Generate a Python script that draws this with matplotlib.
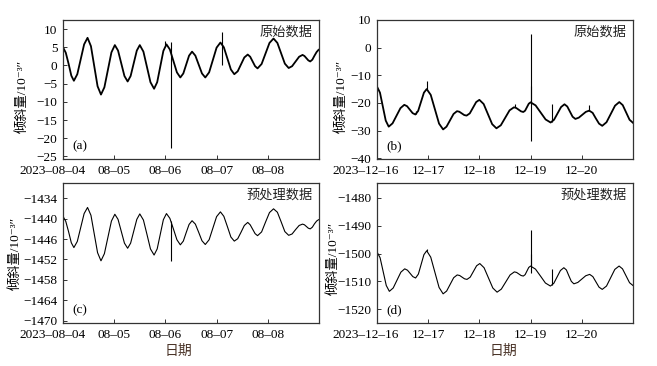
import matplotlib
matplotlib.use('Agg')
import matplotlib.pyplot as plt
import matplotlib.transforms as mtransforms

plt.rcParams['font.family'] = ['Liberation Serif', 'Noto Sans CJK SC', 'DejaVu Serif']
plt.rcParams['axes.unicode_minus'] = True

# hours since 2023-08-04 00:00 (panels a, c)
aug_hours = [0, 1.3, 2.6, 3.9, 5.1, 6.7, 8.3, 9.9, 11.5, 13.1, 14.65, 16.2, 17.8,
             19.4, 21.05, 22.7, 24.3, 25.8, 27.3, 28.8, 30.3, 31.7, 33.15, 34.6, 36.0,
             37.7, 39.35, 41.0, 42.7, 44.15, 45.6, 47.05, 48.5, 50.1, 51.75, 53.4, 55.0,
             56.4, 57.75, 59.1, 60.5, 62.05, 63.6, 65.15, 66.7, 68.5, 70.25, 72.0, 73.8,
             75.4, 77.05, 78.7, 80.3, 81.9, 83.45, 85.0, 86.6, 87.75, 88.9, 90.05, 91.2,
             93.1, 94.95, 96.8, 98.7, 100.5, 102.25, 104.0, 105.8, 107.4, 109.05, 110.7, 112.3,
             113.2, 114.1, 115.0, 115.9, 116.9, 117.9, 118.9, 119.8]
aug_raw = [5.0, 3.5, 0.5, -2.8, -4.2, -2.4, 1.7, 5.8, 7.6, 5.3, -0.2, -5.7, -8.0,
           -6.0, -1.2, 3.6, 5.6, 4.1, 0.6, -2.9, -4.4, -2.9, 0.6, 4.1, 5.6,
           3.8, -0.4, -4.6, -6.4, -4.6, -0.3, 4.0, 5.8, 4.4, 1.25, -1.9, -3.3,
           -2.2, 0.25, 2.7, 3.8, 2.7, 0.25, -2.2, -3.3, -1.9, 1.5, 4.9, 6.3,
           5.0, 1.95, -1.1, -2.4, -1.6, 0.3, 2.2, 3.0, 2.4, 1.1, -0.2, -0.8,
           0.4, 3.3, 6.2, 7.4, 6.2, 3.35, 0.5, -0.7, -0.2, 1.1, 2.4, 2.9,
           2.6, 2.0, 1.4, 1.1, 1.6, 2.7, 3.7, 4.3]
aug_pre = [-1439.3, -1440.8, -1443.8, -1447.1, -1448.5, -1446.7, -1442.6, -1438.5, -1436.7,
           -1439.0, -1444.5, -1450.0, -1452.4, -1450.3, -1445.5, -1440.7, -1438.7,
           -1440.2, -1443.7, -1447.2, -1448.7, -1447.2, -1443.7, -1440.2, -1438.6,
           -1440.4, -1444.6, -1448.9, -1450.7, -1448.9, -1444.6, -1440.3, -1438.5,
           -1439.9, -1443.0, -1446.2, -1447.7, -1446.6, -1444.1, -1441.7, -1440.6,
           -1441.6, -1444.0, -1446.5, -1447.6, -1446.2, -1442.8, -1439.4, -1438.0,
           -1439.3, -1442.3, -1445.4, -1446.6, -1445.9, -1444.0, -1442.0, -1441.1,
           -1441.8, -1443.1, -1444.4, -1445.0, -1443.9, -1441.0, -1438.2, -1437.1,
           -1438.1, -1440.9, -1443.8, -1444.9, -1444.5, -1443.2, -1442.0, -1441.6,
           -1441.8, -1442.3, -1442.8, -1443.0, -1442.5, -1441.5, -1440.7, -1440.3]
aug_raw_spike_hours = [48.0, 50.5, 74.4]
aug_raw_spike_lo = [5.6, -22.8, 0.0]
aug_raw_spike_hi = [6.8, 6.5, 9.1]
aug_pre_spike_hours = [50.5]
aug_pre_spike_lo = [-1452.4]
aug_pre_spike_hi = [-1440.8]

# hours since 2023-12-16 00:00 (panels b, d)
dec_raw_hours = [0, 1.4, 2.75, 4.1, 5.5, 7.3, 9.15, 11.0, 12.8, 14.1, 15.4, 16.7, 18.0,
                 19.3, 20.65, 22.0, 23.3, 25.2, 27.15, 29.1, 31.0, 32.6, 34.25, 35.9, 37.5,
                 38.6, 39.75, 40.9, 42.0, 43.5, 45.0, 46.5, 48.0, 50.0, 52.0, 54.0, 56.0,
                 58.05, 60.1, 62.15, 64.2, 65.3, 66.4, 67.5, 68.6, 69.45, 70.3, 71.15, 72.0,
                 74.35, 76.7, 79.05, 81.4, 83.0, 84.65, 86.3, 87.9, 89.2, 90.45, 91.7, 93.0,
                 94.6, 96.25, 97.9, 99.5, 101.1, 102.55, 104.1, 105.6, 107.6, 109.6, 111.6, 113.6,
                 115.2, 116.8, 118.4, 120.0]
dec_raw = [-14.1, -16.3, -21.35, -26.4, -28.6, -27.4, -24.65, -21.9, -20.7,
           -21.2, -22.45, -23.7, -24.2, -22.9, -19.6, -16.3, -15.0,
           -17.1, -22.3, -27.5, -29.6, -28.6, -26.3, -24.0, -23.0,
           -23.2, -23.8, -24.4, -24.6, -23.8, -21.75, -19.7, -18.9,
           -20.4, -24.05, -27.7, -29.2, -28.1, -25.4, -22.7, -21.6,
           -21.85, -22.45, -23.05, -23.3, -22.8, -21.55, -20.3, -19.8,
           -20.9, -23.45, -26.0, -27.1, -26.1, -23.8, -21.5, -20.5,
           -21.3, -23.15, -25.0, -25.8, -25.35, -24.3, -23.25, -22.8,
           -23.6, -25.55, -27.5, -28.3, -27.0, -24.0, -21.0, -19.7,
           -20.8, -23.45, -26.1, -27.2]
dec_raw_spike_hours = [18.2, 23.3, 64.6, 72.0, 72.25, 82.0, 99.6]
dec_raw_spike_lo = [-24.2, -15.0, -21.6, -33.9, -20.0, -27.0, -22.8]
dec_raw_spike_hi = [-22.8, -12.0, -20.5, 5.1, -13.8, -20.3, -20.6]

dec_pre_hours = [0, 1.45, 2.9, 4.35, 5.8, 7.6, 9.4, 11.2, 13.0, 14.3, 15.55, 16.8, 18.1,
                 19.4, 20.7, 22.0, 23.3, 25.2, 27.15, 29.1, 31.0, 32.65, 34.3, 35.95, 37.6,
                 38.75, 39.9, 41.05, 42.2, 43.7, 45.2, 46.7, 48.2, 50.2, 52.25, 54.3, 56.3,
                 58.3, 60.35, 62.4, 64.4, 65.45, 66.5, 67.55, 68.6, 69.45, 70.3, 71.15, 72.0,
                 74.3, 76.65, 78.95, 81.3, 82.9, 84.45, 86.0, 87.6, 88.8, 89.95, 91.1, 92.3,
                 94.15, 96.0, 97.85, 99.7, 101.2, 102.65, 104.1, 105.6, 107.6, 109.55, 111.5, 113.5,
                 115.1, 116.75, 118.4, 120.0]
dec_pre = [-1499.4, -1501.5, -1506.5, -1511.5, -1513.6, -1512.4, -1509.55, -1506.7, -1505.5,
           -1506.0, -1507.15, -1508.3, -1508.8, -1507.4, -1503.9, -1500.4, -1499.0,
           -1501.3, -1506.75, -1512.2, -1514.5, -1513.5, -1511.1, -1508.7, -1507.7,
           -1507.9, -1508.5, -1509.1, -1509.3, -1508.5, -1506.45, -1504.4, -1503.6,
           -1505.1, -1508.75, -1512.4, -1513.9, -1512.8, -1510.25, -1507.7, -1506.6,
           -1506.8, -1507.35, -1507.9, -1508.1, -1507.6, -1506.3, -1505.0, -1504.5,
           -1505.6, -1508.1, -1510.6, -1511.7, -1510.7, -1508.4, -1506.1, -1505.1,
           -1505.9, -1508.0, -1510.0, -1510.9, -1510.4, -1509.2, -1508.0, -1507.5,
           -1508.3, -1510.2, -1512.1, -1512.9, -1511.7, -1508.7, -1505.7, -1504.5,
           -1505.5, -1508.0, -1510.5, -1511.5]
dec_pre_spike_hours = [23.3, 72.0, 72.25, 81.9]
dec_pre_spike_lo = [-1499.0, -1506.9, -1504.6, -1511.4]
dec_pre_spike_hi = [-1498.3, -1491.7, -1500.0, -1505.7]

tick_hours = [0, 24, 48, 72, 96]
aug_labels = ['2023\u201308\u201304', '08\u201305', '08\u201306', '08\u201307', '08\u201308']
dec_labels = ['2023\u201312\u201316', '12\u201317', '12\u201318', '12\u201319', '12\u201320']

ylabel = '倾斜量/10⁻³″'
frame_color = '#333333'

fig = plt.figure(figsize=(6.57, 3.66), dpi=100)
ax_a = fig.add_axes([0.0959, 0.5656, 0.3896, 0.3798])
ax_b = fig.add_axes([0.5738, 0.5656, 0.3896, 0.3798])
ax_c = fig.add_axes([0.0959, 0.1175, 0.3896, 0.3825])
ax_d = fig.add_axes([0.5738, 0.1175, 0.3896, 0.3825])


def setup(ax, ylim, yticks, labels, tag, title, label_x, label_y):
    ax.set_xlim(0, 120)
    ax.set_ylim(*ylim)
    ax.set_yticks(yticks)
    ax.set_xticks(tick_hours)
    ax.set_xticklabels(labels)
    ax.tick_params(direction='in', length=3, width=0.7, color=frame_color,
                   labelsize=9.5, pad=4)
    for s in ax.spines.values():
        s.set_color(frame_color)
        s.set_linewidth(0.9)
    # first date label sits a bit left of its tick
    first = ax.get_xticklabels()[0]
    first.set_transform(first.get_transform() +
                        mtransforms.ScaledTranslation(-0.11, 0, fig.dpi_scale_trans))
    ax.set_ylabel(ylabel, fontsize=9.5)
    ax.yaxis.set_label_coords(label_x, label_y)
    ax.text(0.035, 0.05, tag, transform=ax.transAxes, fontsize=9.5,
            ha='left', va='bottom')
    ax.text(0.975, 0.955, title, transform=ax.transAxes, fontsize=9.5,
            ha='right', va='top', color='#222222')


ax_a.plot(aug_hours, aug_raw, color='black', lw=1.3)
ax_a.vlines(aug_raw_spike_hours, aug_raw_spike_lo, aug_raw_spike_hi, color='black', lw=0.8)
setup(ax_a, (-25.7, 12.5), [10, 5, 0, -5, -10, -15, -20, -25], aug_labels, '(a)', '原始数据',
      -0.135, 0.45)

ax_b.plot(dec_raw_hours, dec_raw, color='black', lw=1.3)
ax_b.vlines(dec_raw_spike_hours, dec_raw_spike_lo, dec_raw_spike_hi, color='black', lw=0.8)
setup(ax_b, (-40.3, 10), [10, 0, -10, -20, -30, -40], dec_labels, '(b)', '原始数据',
      -0.115, 0.45)

ax_c.plot(aug_hours, aug_pre, color='black', lw=0.8)
ax_c.vlines(aug_pre_spike_hours, aug_pre_spike_lo, aug_pre_spike_hi, color='black', lw=0.8)
setup(ax_c, (-1470.7, -1429.5), [-1434, -1440, -1446, -1452, -1458, -1464, -1470], aug_labels,
      '(c)', '预处理数据', -0.162, 0.5)
ax_c.set_xlabel('日期', fontsize=10, color='#4a3428')
ax_c.xaxis.set_label_coords(0.45, -0.155)

ax_d.plot(dec_pre_hours, dec_pre, color='black', lw=0.8)
ax_d.vlines(dec_pre_spike_hours, dec_pre_spike_lo, dec_pre_spike_hi, color='black', lw=0.8)
setup(ax_d, (-1525, -1474.6), [-1480, -1490, -1500, -1510, -1520], dec_labels,
      '(d)', '预处理数据', -0.146, 0.46)
ax_d.set_xlabel('日期', fontsize=10, color='#4a3428')
ax_d.xaxis.set_label_coords(0.494, -0.155)

fig.savefig('out.png', dpi=100)
